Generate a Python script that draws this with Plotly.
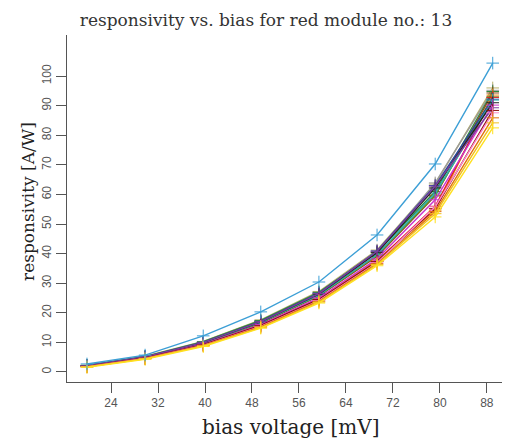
import plotly.graph_objects as go

bias_mv = [19.9, 29.8, 39.7, 49.5, 59.4, 69.3, 79.2, 89.0]

x_ticks = [24, 32, 40, 48, 56, 64, 72, 80, 88]
y_ticks = [0, 10, 20, 30, 40, 50, 60, 70, 80, 90, 100]

s_khaki = [2.3, 5.3, 10.3, 17.6, 27.2, 41.2, 63.5, 96.0]
s_gray = [2.2, 5.2, 10.1, 17.2, 26.8, 40.6, 63.9, 95.2]
s_green = [2.2, 5.2, 10.2, 17.4, 26.9, 40.5, 61.0, 94.8]
s_brown = [2.0, 4.9, 9.6, 16.4, 25.6, 39.0, 59.5, 94.3]
s_orange = [1.9, 4.7, 9.3, 15.9, 24.8, 37.8, 54.7, 93.6]
s_olive = [2.0, 4.9, 9.7, 16.6, 25.9, 39.5, 59.8, 93.0]
s_red = [1.8, 4.6, 9.1, 15.6, 24.4, 37.4, 56.0, 92.8]
s_darkblue = [2.1, 5.1, 10.0, 17.1, 26.6, 40.9, 63.0, 92.2]
s_teal = [2.1, 5.0, 9.8, 16.8, 26.0, 39.6, 60.5, 91.9]
s_black = [2.0, 5.0, 9.9, 16.9, 26.3, 40.3, 62.2, 91.0]
s_magenta = [1.9, 4.8, 9.4, 16.0, 25.0, 38.2, 58.2, 90.2]
s_purple = [2.1, 5.1, 10.0, 17.0, 26.5, 40.8, 62.8, 89.3]
s_darkred = [1.9, 4.7, 9.2, 15.7, 24.5, 37.3, 55.2, 88.4]
s_pink = [1.8, 4.6, 9.0, 15.4, 24.1, 36.9, 55.8, 87.6]
s_darkorange = [1.7, 4.5, 8.9, 15.2, 23.9, 36.6, 54.2, 85.9]
s_gold = [1.7, 4.4, 8.8, 15.0, 23.6, 36.3, 53.5, 84.2]
s_yellow = [1.6, 4.3, 8.6, 14.8, 23.3, 35.9, 52.4, 82.5]
s_cyan = [2.7, 5.7, 12.2, 20.3, 30.4, 46.3, 70.3, 104.4]

series = [
    (s_khaki, "#b5b06a"), (s_gray, "#9a9a9a"), (s_green, "#2e8b3e"),
    (s_brown, "#8b4a1c"), (s_orange, "#f08a1c"), (s_olive, "#6b8e23"),
    (s_red, "#e02020"), (s_darkblue, "#2a3fa0"), (s_teal, "#2bb0b0"),
    (s_black, "#222222"), (s_magenta, "#cc33cc"), (s_purple, "#7b3fa0"),
    (s_darkred, "#8b1010"), (s_pink, "#ff88cc"), (s_darkorange, "#e07010"),
    (s_gold, "#f0c020"), (s_yellow, "#ffe020"), (s_cyan, "#3c9fd6"),
]

fig = go.Figure()
for vals, col in series:
    fig.add_trace(go.Scatter(
        x=bias_mv, y=vals, mode="lines+markers",
        line=dict(color=col, width=1.4),
        marker=dict(symbol="cross-thin", size=9, line=dict(color=col, width=1)),
        showlegend=False, hoverinfo="skip",
    ))

axis_col = "#555555"
tick_font = dict(family="Liberation Sans, Arial, sans-serif", size=12, color="#555555")

# page body has an 8px default margin, so the figure is drawn at (8, 8)
W, H = 502, 433
L, T, B, R = 59, 27, 59, 2

fig.update_layout(
    width=W, height=H,
    margin=dict(l=L, r=R, t=T, b=B),
    paper_bgcolor="white", plot_bgcolor="white",
    title=dict(text="responsivity vs. bias for red module no.: 13",
               font=dict(family="DejaVu Serif, serif", size=17, color="#333333"),
               xref="container", x=258 / W, xanchor="center",
               yref="container", y=1 - 12 / H, yanchor="middle"),
    xaxis=dict(range=[16.5, 91.6], tickvals=x_ticks, ticktext=[str(v) for v in x_ticks],
               showgrid=False, zeroline=False, showline=True, linecolor=axis_col, linewidth=1,
               ticks="outside", ticklen=10, tickcolor=axis_col, tickwidth=1,
               tickfont=tick_font, automargin=False),
    yaxis=dict(range=[-3.4, 113.9], tickvals=y_ticks, ticktext=[str(v) for v in y_ticks],
               showgrid=False, zeroline=False, showline=True, linecolor=axis_col, linewidth=1,
               ticks="outside", ticklen=10, tickcolor=axis_col, tickwidth=1,
               tickangle=-90, tickfont=tick_font, automargin=False),
    annotations=[
        dict(text="bias voltage [mV]", xref="paper", yref="paper",
             x=(290 - 67) / 441, y=0, xanchor="center", yanchor="middle", yshift=-45,
             showarrow=False, font=dict(family="DejaVu Serif, serif", size=20, color="#222222")),
        dict(text="responsivity [A/W]", xref="paper", yref="paper",
             x=0, y=(382 - 202) / 347, xanchor="center", yanchor="middle", xshift=-39,
             textangle=-90, showarrow=False,
             font=dict(family="DejaVu Serif, serif", size=17, color="#222222")),
    ],
)

fig.write_html("out.html")
